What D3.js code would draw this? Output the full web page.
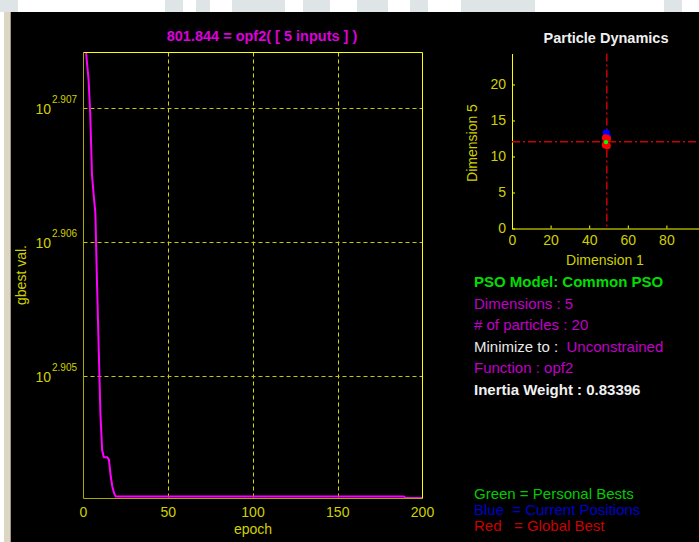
<!DOCTYPE html>
<html>
<head>
<meta charset="utf-8">
<script src="https://cdn.jsdelivr.net/npm/d3@7"></script>
<style>
  body { margin: 0; background: #fff; }
  svg { display: block; font-family: "Liberation Sans", Arial, sans-serif; }
</style>
</head>
<body>
<div id="chart"></div>
<script>
// convergence curve (gbest value per epoch)
var epochs = [1, 2, 3, 4, 5, 6, 7, 8, 9, 10, 11, 12, 13, 14, 15, 16, 17, 18, 19, 189, 190, 200];
var gbest = [808.17, 807.87, 807.62, 807.13, 806.31, 806.03, 805.78, 804.79, 803.89, 803.00,
             802.51, 802.41, 802.41, 802.41, 802.38, 802.16, 802.01, 801.92, 801.87, 801.87, 801.85, 801.85];
var xTicks = [0, 50, 100, 150, 200];
var yTickExps = [2.905, 2.906, 2.907];
var bestValue = "801.844";

// particle dynamics (dimension 1 vs dimension 5)
var blueD1 = [48.8, 49.3], blueD5 = [13.3, 12.9];
var redD1 = [48.4, 49.5, 48.3, 49.4], redD5 = [12.6, 12.5, 11.6, 11.5];
var greenD1 = [48.7], greenD5 = [12.0];
var globalD1 = 49.1, globalD5 = 12.05;
var scatXTicks = [0, 20, 40, 60, 80];
var scatYTicks = [0, 5, 10, 15, 20];

// info panel
var infoLines = [
  ["PSO Model: Common PSO"],
  ["Dimensions : 5"],
  ["# of particles : 20"],
  ["Minimize to :  ", "Unconstrained"],
  ["Function : opf2"],
  ["Inertia Weight : 0.83396"]
];
var legendLines = ["Green = Personal Bests", "Blue  = Current Positions", "Red   = Global Best"];

var W = 699, H = 542;
var svg = d3.select("#chart").append("svg")
  .attr("width", W)
  .attr("height", H);

// background: screenshot frame
svg.append("rect").attr("width", W).attr("height", H).attr("fill", "#ffffff");
var wm = [[0, 18], [165, 18], [196, 14], [232, 53], [303, 27], [357, 31], [410, 18], [461, 74], [664, 18]];
svg.selectAll("rect.wm")
  .data(wm)
  .enter().append("rect")
    .attr("class", "wm")
    .attr("x", function(d) { return d[0]; })
    .attr("y", 0)
    .attr("width", function(d) { return d[1]; })
    .attr("height", 12)
    .attr("fill", "#dfe4e7");
svg.append("rect").attr("x", 4).attr("y", 12).attr("width", 7).attr("height", H - 12).attr("fill", "#ddd6c3");
svg.append("rect").attr("x", 10).attr("y", 12).attr("width", 1).attr("height", H - 12).attr("fill", "#9c9686");
svg.append("rect").attr("x", 11).attr("y", 12).attr("width", W - 11).attr("height", H - 12).attr("fill", "#000");

var tickCol = "#d0d000";

// ---------- left chart ----------
var x = d3.scaleLinear().domain([0, 200]).range([83.5, 422.5]);
var y = d3.scaleLog().domain([801.844, 808.0]).range([498.5, 52.5]);

svg.append("clipPath").attr("id", "clipL")
  .append("rect")
    .attr("x", x(0)).attr("y", y(808.0))
    .attr("width", x(200) - x(0)).attr("height", y(801.844) - y(808.0));

// grid
svg.selectAll("line.vgrid")
  .data(xTicks.slice(1, -1))
  .enter().append("line")
    .attr("class", "vgrid")
    .attr("x1", function(d) { return Math.round(x(d)) + 0.5; })
    .attr("x2", function(d) { return Math.round(x(d)) + 0.5; })
    .attr("y1", y(808.0))
    .attr("y2", y(801.844))
    .attr("stroke", "#d8d800")
    .attr("stroke-dasharray", "4,3");

svg.selectAll("line.hgrid")
  .data(yTickExps)
  .enter().append("line")
    .attr("class", "hgrid")
    .attr("x1", x(0))
    .attr("x2", x(200))
    .attr("y1", function(d) { return Math.round(y(Math.pow(10, d))) + 0.5; })
    .attr("y2", function(d) { return Math.round(y(Math.pow(10, d))) + 0.5; })
    .attr("stroke", "#c8c800")
    .attr("stroke-dasharray", "4,3");

// curve
var curve = d3.line()
  .x(function(d, i) { return x(epochs[i]); })
  .y(function(d) { return y(d); });

svg.append("path")
  .datum(gbest)
  .attr("clip-path", "url(#clipL)")
  .attr("d", curve)
  .attr("fill", "none")
  .attr("stroke", "#ff00ff")
  .attr("stroke-width", 2);

// box
svg.append("line").attr("x1", x(0)).attr("x2", x(0)).attr("y1", y(808.0)).attr("y2", y(801.844)).attr("stroke", "#a8a800");
svg.append("line").attr("x1", x(0)).attr("x2", x(200)).attr("y1", y(801.844)).attr("y2", y(801.844)).attr("stroke", "#a8a800");
svg.append("line").attr("x1", x(0)).attr("x2", x(200)).attr("y1", y(808.0)).attr("y2", y(808.0)).attr("stroke", "#ffff00");
svg.append("line").attr("x1", x(200)).attr("x2", x(200)).attr("y1", y(808.0)).attr("y2", y(801.844)).attr("stroke", "#ffff00");

// x tick labels
svg.selectAll("text.xtick")
  .data(xTicks)
  .enter().append("text")
    .attr("class", "xtick")
    .attr("x", function(d) { return x(d); })
    .attr("y", 517)
    .attr("text-anchor", "middle")
    .attr("font-size", 14)
    .attr("fill", tickCol)
    .text(function(d) { return d; });

// y tick labels, 10^exp
var yt = svg.selectAll("g.ytick")
  .data(yTickExps)
  .enter().append("g")
    .attr("class", "ytick");
yt.append("text")
  .attr("x", 51)
  .attr("y", function(d) { return y(Math.pow(10, d)) + 6; })
  .attr("text-anchor", "end")
  .attr("font-size", 14)
  .attr("fill", tickCol)
  .text("10");
yt.append("text")
  .attr("x", 52)
  .attr("y", function(d) { return y(Math.pow(10, d)) - 5; })
  .attr("font-size", 10)
  .attr("fill", tickCol)
  .text(function(d) { return d3.format(".3f")(d); });

svg.append("text")
  .attr("x", (x(0) + x(200)) / 2)
  .attr("y", 534)
  .attr("text-anchor", "middle")
  .attr("font-size", 14)
  .attr("fill", tickCol)
  .text("epoch");

svg.append("text")
  .attr("transform", "translate(26,275) rotate(-90)")
  .attr("text-anchor", "middle")
  .attr("font-size", 14)
  .attr("fill", tickCol)
  .text("gbest val.");

svg.append("text")
  .attr("x", 262)
  .attr("y", 41)
  .attr("text-anchor", "middle")
  .attr("font-size", 14.5)
  .attr("font-weight", "bold")
  .attr("fill", "#dd00dd")
  .text(bestValue + " = opf2( [ 5 inputs ] )");

// ---------- particle dynamics ----------
var sx = d3.scaleLinear().domain([0, 100]).range([512, 705]);
var sy = d3.scaleLinear().domain([0, 24.3]).range([228.5, 53.5]);

svg.append("text")
  .attr("x", 606)
  .attr("y", 43)
  .attr("text-anchor", "middle")
  .attr("font-size", 14.5)
  .attr("font-weight", "bold")
  .attr("fill", "#f0f0f0")
  .text("Particle Dynamics");

var gx = svg.append("g")
  .attr("transform", "translate(0," + sy(0) + ")")
  .call(d3.axisBottom(sx).tickValues(scatXTicks).tickSizeInner(-3).tickSizeOuter(0).tickPadding(7));
var gy = svg.append("g")
  .attr("transform", "translate(" + sx(0) + ",0)")
  .call(d3.axisLeft(sy).tickValues(scatYTicks).tickSizeInner(-3).tickSizeOuter(0).tickPadding(6));
[gx, gy].forEach(function(g) {
  g.select(".domain").attr("stroke", "#ffff00");
  g.selectAll(".tick line").attr("stroke", "#ffff00");
  g.selectAll(".tick text")
    .attr("fill", tickCol)
    .attr("font-size", 14)
    .attr("font-family", "Liberation Sans, Arial, sans-serif");
});

svg.append("text")
  .attr("x", 605)
  .attr("y", 265)
  .attr("text-anchor", "middle")
  .attr("font-size", 14)
  .attr("fill", tickCol)
  .text("Dimension 1");

svg.append("text")
  .attr("transform", "translate(477,143) rotate(-90)")
  .attr("text-anchor", "middle")
  .attr("font-size", 14)
  .attr("fill", tickCol)
  .text("Dimension 5");

// global best crosshair
svg.append("line")
  .attr("x1", sx(globalD1)).attr("x2", sx(globalD1))
  .attr("y1", sy(24.3)).attr("y2", sy(0))
  .attr("stroke", "#c80000").attr("stroke-width", 1.5)
  .attr("stroke-dasharray", "8,3,2,3");
svg.append("line")
  .attr("x1", sx(0)).attr("x2", W)
  .attr("y1", sy(globalD5)).attr("y2", sy(globalD5))
  .attr("stroke", "#c80000").attr("stroke-width", 1.5)
  .attr("stroke-dasharray", "8,3,2,3");

svg.selectAll("circle.blue")
  .data(blueD1)
  .enter().append("circle")
    .attr("class", "blue")
    .attr("cx", function(d) { return sx(d); })
    .attr("cy", function(d, i) { return sy(blueD5[i]); })
    .attr("r", 3.5)
    .attr("fill", "#0000ff");

svg.selectAll("circle.red")
  .data(redD1)
  .enter().append("circle")
    .attr("class", "red")
    .attr("cx", function(d) { return sx(d); })
    .attr("cy", function(d, i) { return sy(redD5[i]); })
    .attr("r", 3.5)
    .attr("fill", "#ff0000");

svg.selectAll("circle.green")
  .data(greenD1)
  .enter().append("circle")
    .attr("class", "green")
    .attr("cx", function(d) { return sx(d); })
    .attr("cy", function(d, i) { return sy(greenD5[i]); })
    .attr("r", 2.2)
    .attr("fill", "#00ff00");

// ---------- info panel ----------
var infoCols = [["#00dd00"], ["#c000c8"], ["#c000c8"], ["#e8e8e8", "#c000c8"], ["#c000c8"], ["#f0f0f0"]];
var infoBold = [true, false, false, false, false, true];

var info = svg.selectAll("text.info")
  .data(infoLines)
  .enter().append("text")
    .attr("class", "info")
    .attr("x", 474)
    .attr("y", function(d, i) { return 287 + i * 21.6; })
    .attr("font-size", 15)
    .attr("font-weight", function(d, i) { return infoBold[i] ? "bold" : "normal"; })
    .style("white-space", "pre");
info.selectAll("tspan")
  .data(function(d, i) { return d.map(function(s, j) { return { s: s, c: infoCols[i][j] }; }); })
  .enter().append("tspan")
    .attr("fill", function(d) { return d.c; })
    .text(function(d) { return d.s; });

var legendCols = ["#00cc00", "#0000cc", "#cc0000"];
svg.selectAll("text.leg")
  .data(legendLines)
  .enter().append("text")
    .attr("class", "leg")
    .attr("x", 474)
    .attr("y", function(d, i) { return 498.5 + i * 16; })
    .attr("font-size", 15)
    .attr("fill", function(d, i) { return legendCols[i]; })
    .style("white-space", "pre")
    .text(function(d) { return d; });
</script>
</body>
</html>
